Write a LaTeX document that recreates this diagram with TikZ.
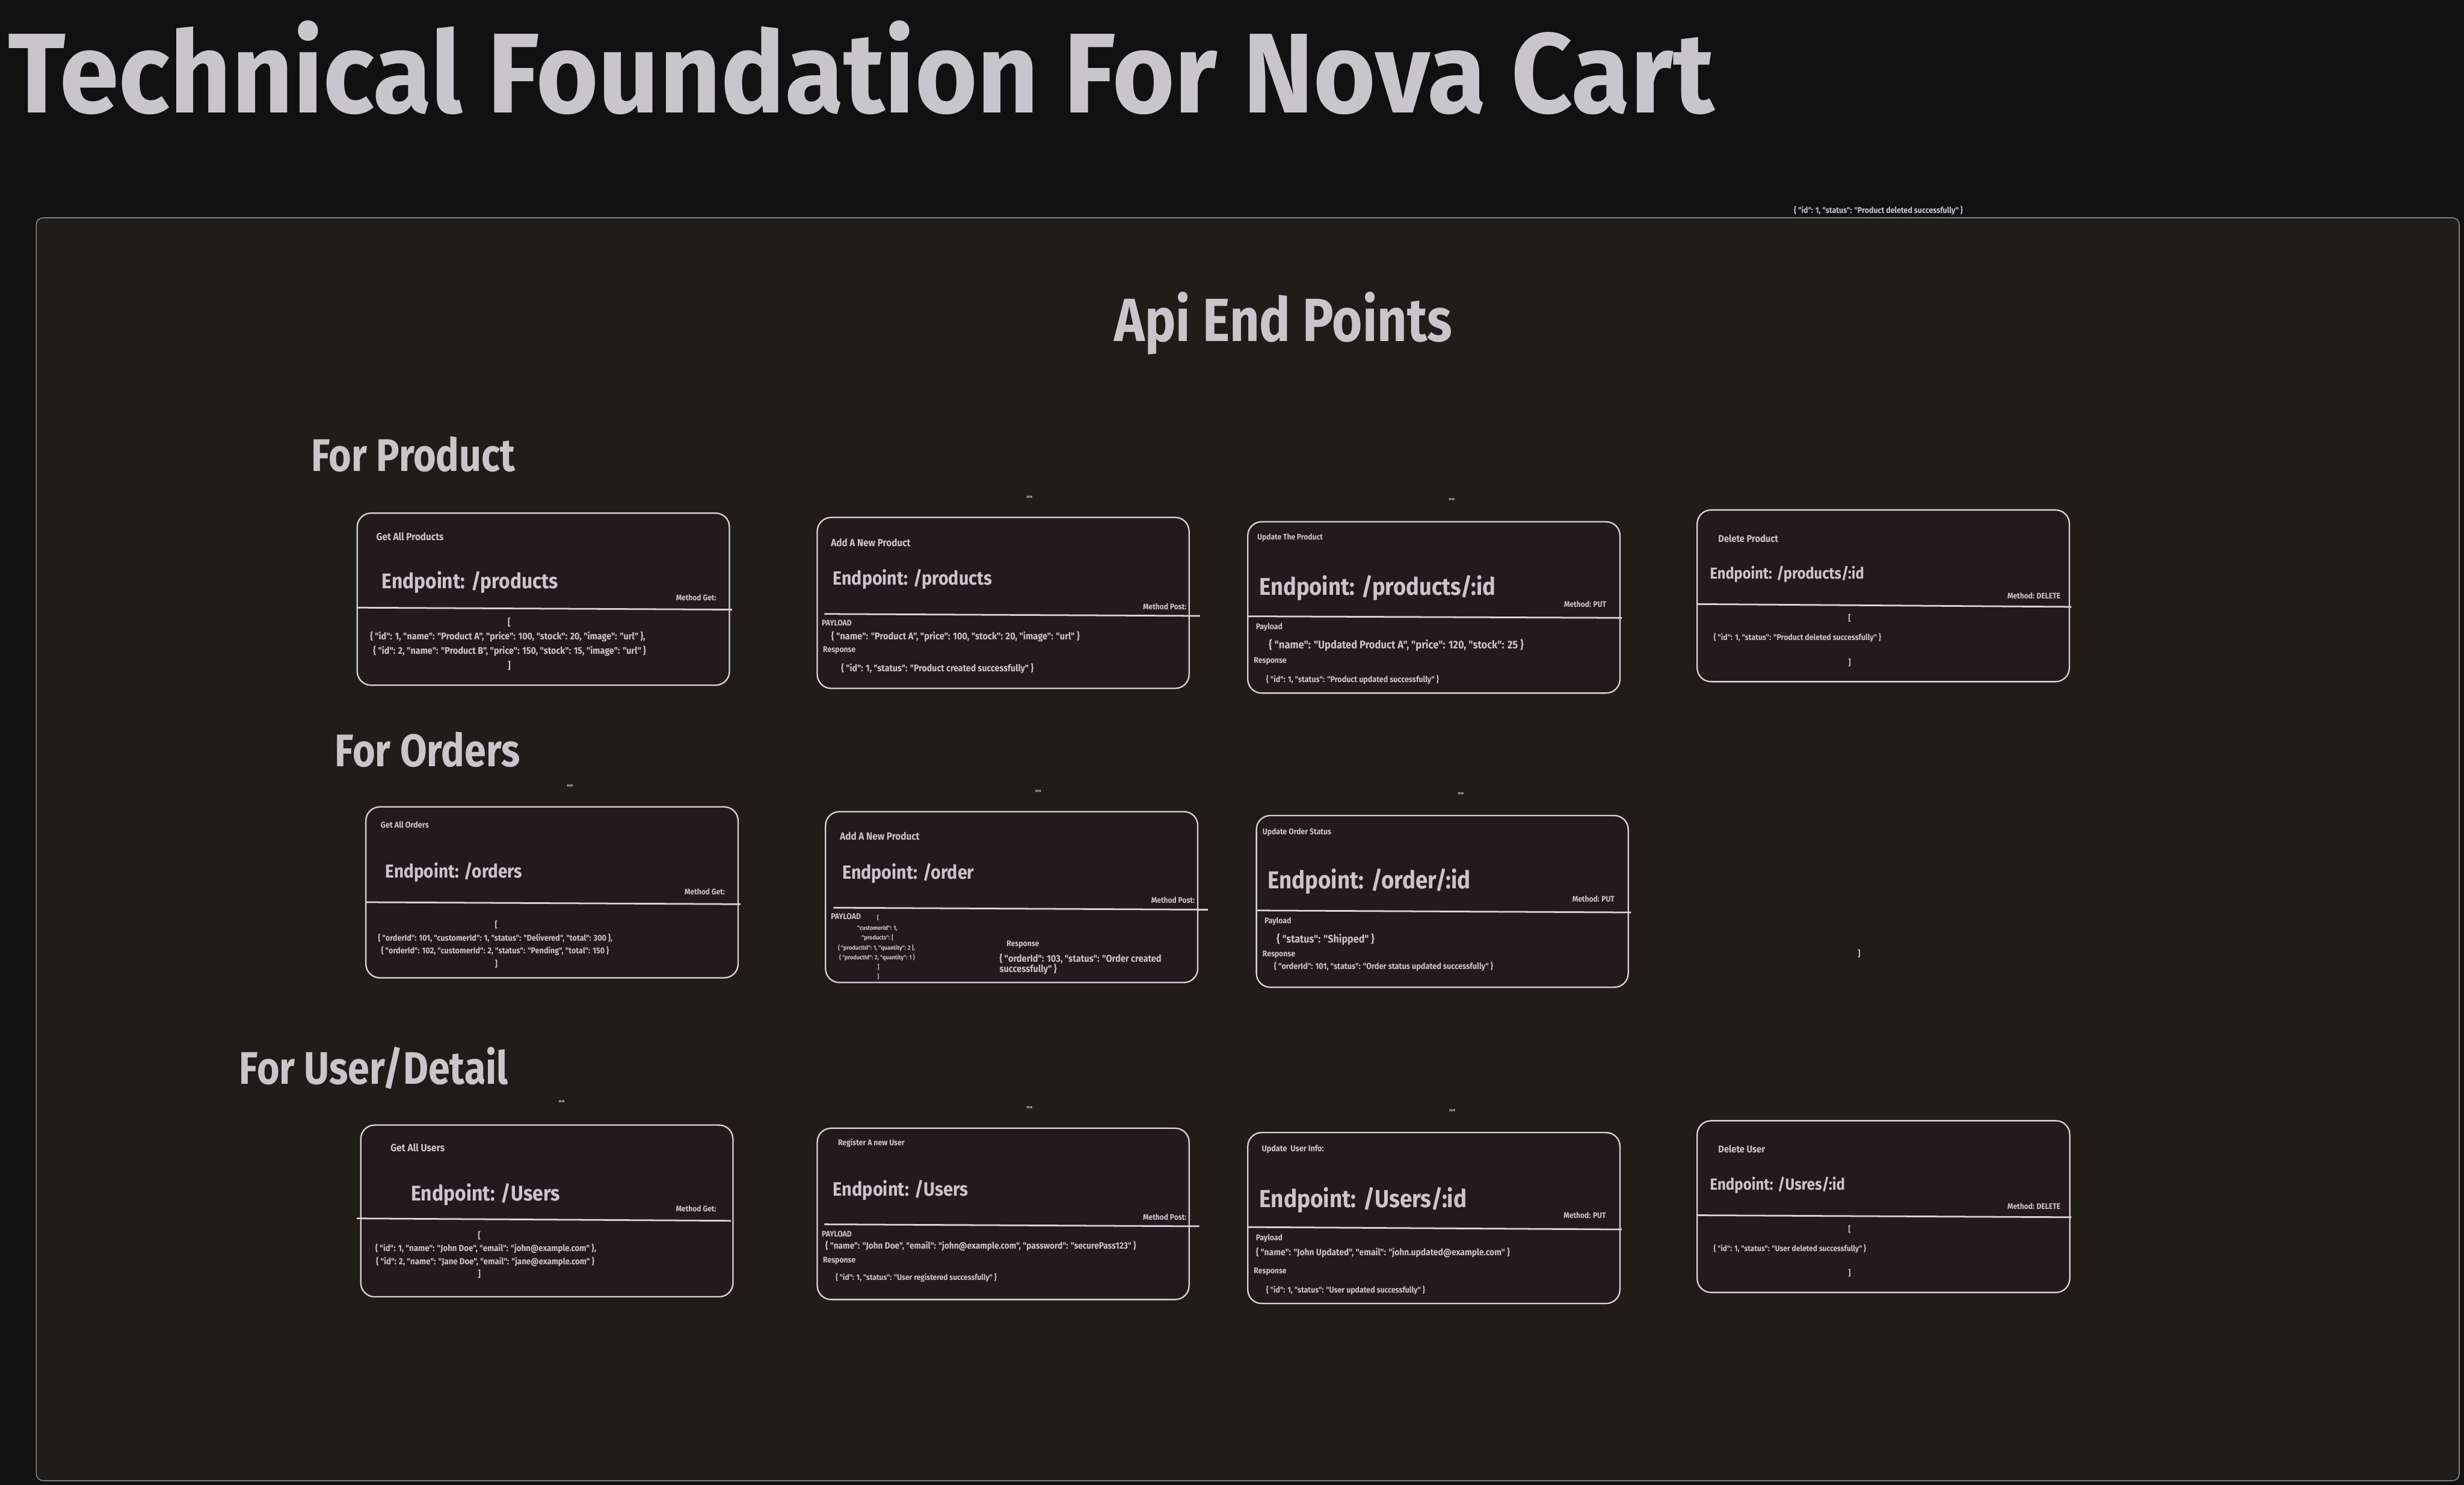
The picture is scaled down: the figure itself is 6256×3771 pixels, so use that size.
\documentclass[tikz,border=0pt]{standalone}
\usepackage{fontspec}
\newfontfamily\titlefont{Fira Sans}[FakeStretch=0.94]
\newfontfamily\headfont{Fira Sans}[FakeStretch=0.85]
\newfontfamily\cardfont{Fira Sans}[FakeStretch=0.9]
\definecolor{pagebg}{RGB}{17,17,17}
\definecolor{panelfill}{RGB}{31,28,26}
\definecolor{panelline}{RGB}{150,148,150}
\definecolor{cardfill}{RGB}{35,26,30}
\definecolor{cardline}{RGB}{214,212,215}
\definecolor{ink}{RGB}{200,198,202}

\begin{document}
\begin{tikzpicture}[x = 0.01cm, y = -0.01cm,
  card/.style = {draw = cardline, fill = cardfill, line width = 1pt, rounded corners = 10pt},
  divider/.style = {draw = cardline, line width = 1.2pt},
  heading/.style = {anchor = base west, inner sep = 0pt, text = ink, font = \headfont\bfseries\fontsize{#1}{#1}\selectfont},
  txt/.style = {inner sep = 0pt, text = ink, font = \cardfont\bfseries\fontsize{#1}{#1}\selectfont},
  lefttxt/.style = {txt = #1, anchor = west},
  method/.style = {txt = 5.8, anchor = east},
  seclabel/.style = {txt = 5.9, anchor = west},
  quotemark/.style = {txt = 5.5}]
\useasboundingbox (0,0) rectangle (6256,3771);
\fill[pagebg] (0,0) rectangle (6256,3771);
\filldraw[fill = panelfill, draw = panelline, line width = 0.6pt, rounded corners = 5pt] (92,553) rectangle (6244,3760);

\node[heading = 82, font = \titlefont\bfseries\fontsize{82}{82}\selectfont] (title) at (20,287) {Technical Foundation For Nova Cart};
\node[heading = 44] (api) at (2829,866) {Api End Points};
\node[heading = 33] (forproduct) at (790,1197) {For Product};
\node[heading = 33] (fororders) at (850,1947) {For Orders};
\node[heading = 33] (foruser) at (607,2753) {For User/Detail};
\node[lefttxt = 6] (stray1) at (4554,535) {\{ "id": 1, "status": "Product deleted successfully" \}};
\node[txt = 6.1] (stray2) at (4720,2422) {]};

\filldraw[card] (907,1303) rectangle (1852,1740);
\draw[divider] (907,1543) -- (1859,1548);
\node[lefttxt = 7.4] (c1title) at (955,1363) {Get All Products};
\node[lefttxt = 15.3] (c1ep) at (969,1478) {Endpoint: /products};
\node[method] (c1method) at (1819,1518) {Method Get:};
\node[txt = 6.95] (c1open) at (1293,1580) {[};
\node[lefttxt = 6.95] (c1row1) at (939,1616) {\{ "id": 1, "name": "Product A", "price": 100, "stock": 20, "image": "url" \},};
\node[lefttxt = 6.95] (c1row2) at (947,1654) {\{ "id": 2, "name": "Product B", "price": 150, "stock": 15, "image": "url" \}};
\node[txt = 6.95] (c1close) at (1293,1691) {]};

\filldraw[card] (2075,1314) rectangle (3019,1748);
\draw[divider] (2093,1559) -- (3047,1564);
\node[quotemark] (c2mark) at (2614,1266) {""};
\node[lefttxt = 7.4] (c2title) at (2109,1378) {Add A New Product};
\node[lefttxt = 13.8] (c2ep) at (2114,1471) {Endpoint: /products};
\node[method] (c2method) at (3013,1540) {Method Post:};
\node[seclabel] (c2pay) at (2086,1582) {PAYLOAD};
\node[lefttxt = 7.05] (c2payrow) at (2110,1616) {\{ "name": "Product A", "price": 100, "stock": 20, "image": "url" \}};
\node[seclabel] (c2resp) at (2089,1651) {Response};
\node[lefttxt = 6.85] (c2resprow) at (2135,1698) {\{ "id": 1, "status": "Product created successfully" \}};

\filldraw[card] (3168,1325) rectangle (4113,1760);
\draw[divider] (3168,1565) -- (4118,1569);
\node[quotemark] (c3mark) at (3686,1273) {""};
\node[lefttxt = 5.8] (c3title) at (3192,1366) {Update The Product};
\node[lefttxt = 17.5] (c3ep) at (3197,1493) {Endpoint: /products/:id};
\node[method] (c3method) at (4079,1535) {Method: PUT};
\node[seclabel] (c3pay) at (3188,1593) {Payload};
\node[lefttxt = 8.0] (c3payrow) at (3221,1638) {\{ "name": "Updated Product A", "price": 120, "stock": 25 \}};
\node[seclabel] (c3resp) at (3183,1679) {Response};
\node[lefttxt = 6.05] (c3resprow) at (3214,1726) {\{ "id": 1, "status": "Product updated successfully" \}};

\filldraw[card] (4309,1295) rectangle (5254,1731);
\draw[divider] (4309,1534) -- (5259,1541);
\node[lefttxt = 7.1] (c4title) at (4362,1367) {Delete Product};
\node[lefttxt = 11.4] (c4ep) at (4341,1458) {Endpoint: /products/:id};
\node[method] (c4method) at (5232,1513) {Method: DELETE};
\node[txt = 5.95] (c4open) at (4696,1570) {[};
\node[lefttxt = 5.95] (c4row) at (4350,1620) {\{ "id": 1, "status": "Product deleted successfully" \}};
\node[txt = 5.95] (c4close) at (4696,1683) {]};

\filldraw[card] (929,2049) rectangle (1874,2483);
\draw[divider] (929,2291) -- (1880,2296);
\node[quotemark] (c5mark) at (1447,1999) {""};
\node[lefttxt = 6.1] (c5title) at (966,2094) {Get All Orders};
\node[lefttxt = 13.5] (c5ep) at (978,2215) {Endpoint: /orders};
\node[method] (c5method) at (1841,2265) {Method Get:};
\node[txt = 6.1] (c5open) at (1260,2349) {[};
\node[lefttxt = 6.1] (c5row1) at (959,2382) {\{ "orderId": 101, "customerId": 1, "status": "Delivered", "total": 300 \},};
\node[lefttxt = 6.1] (c5row2) at (967,2415) {\{ "orderId": 102, "customerId": 2, "status": "Pending", "total": 150 \}};
\node[txt = 6.1] (c5close) at (1260,2447) {]};

\filldraw[card] (2096,2061) rectangle (3041,2495);
\draw[divider] (2116,2305) -- (3067,2310);
\node[quotemark] (c6mark) at (2636,2013) {""};
\node[lefttxt = 7.4] (c6title) at (2132,2124) {Add A New Product};
\node[lefttxt = 13.8] (c6ep) at (2138,2218) {Endpoint: /order};
\node[method] (c6method) at (3034,2286) {Method Post:};
\node[seclabel] (c6pay) at (2109,2328) {PAYLOAD};
\node[txt = 4.4] (c6open) at (2229,2331) {\{};
\node[lefttxt = 4.4] (c6cust) at (2176,2357) {"customerId": 1,};
\node[lefttxt = 4.4] (c6prod) at (2187,2382) {"products": [};
\node[lefttxt = 4.4] (c6item1) at (2127,2407) {\{ "productId": 1, "quantity": 2 \},};
\node[lefttxt = 4.4] (c6item2) at (2130,2432) {\{ "productId": 2, "quantity": 1 \}};
\node[txt = 4.4] (c6listend) at (2230,2456) {]};
\node[txt = 4.4] (c6close) at (2230,2480) {\}};
\node[seclabel] (c6resp) at (2555,2399) {Response};
\node[lefttxt = 7.05] (c6resp1) at (2537,2435) {\{ "orderId": 103, "status": "Order created};
\node[lefttxt = 7.05] (c6resp2) at (2537,2461) {successfully" \}};

\filldraw[card] (3190,2071) rectangle (4134,2507);
\draw[divider] (3190,2312) -- (4141,2317);
\node[quotemark] (c7mark) at (3709,2019) {""};
\node[lefttxt = 5.9] (c7title) at (3205,2113) {Update Order Status};
\node[lefttxt = 17.7] (c7ep) at (3218,2238) {Endpoint: /order/:id};
\node[method] (c7method) at (4100,2282) {Method: PUT};
\node[seclabel] (c7pay) at (3210,2340) {Payload};
\node[lefttxt = 7.8] (c7payrow) at (3241,2385) {\{ "status": "Shipped" \}};
\node[seclabel] (c7resp) at (3205,2425) {Response};
\node[lefttxt = 6.15] (c7resprow) at (3234,2455) {\{ "orderId": 101, "status": "Order status updated successfully" \}};

\filldraw[card] (916,2857) rectangle (1861,3293);
\draw[divider] (906,3094) -- (1856,3100);
\node[quotemark] (c8mark) at (1426,2802) {""};
\node[lefttxt = 7.5] (c8title) at (991,2914) {Get All Users};
\node[lefttxt = 15.4] (c8ep) at (1043,3033) {Endpoint: /Users};
\node[method] (c8method) at (1819,3069) {Method Get:};
\node[txt = 6.4] (c8open) at (1217,3138) {[};
\node[lefttxt = 6.4] (c8row1) at (952,3171) {\{ "id": 1, "name": "John Doe", "email": "john@example.com" \},};
\node[lefttxt = 6.4] (c8row2) at (954,3204) {\{ "id": 2, "name": "Jane Doe", "email": "jane@example.com" \}};
\node[txt = 6.4] (c8close) at (1217,3236) {]};

\filldraw[card] (2075,2865) rectangle (3019,3300);
\draw[divider] (2093,3109) -- (3045,3114);
\node[quotemark] (c9mark) at (2614,2817) {""};
\node[lefttxt = 5.9] (c9title) at (2127,2903) {Register A new User};
\node[lefttxt = 14] (c9ep) at (2114,3022) {Endpoint: /Users};
\node[method] (c9method) at (3013,3091) {Method Post:};
\node[seclabel] (c9pay) at (2086,3133) {PAYLOAD};
\node[lefttxt = 6.6] (c9payrow) at (2095,3165) {\{ "name": "John Doe", "email": "john@example.com", "password": "securePass123" \}};
\node[seclabel] (c9resp) at (2089,3202) {Response};
\node[lefttxt = 5.8] (c9resprow) at (2121,3244) {\{ "id": 1, "status": "User registered successfully" \}};

\filldraw[card] (3168,2876) rectangle (4113,3310);
\draw[divider] (3168,3116) -- (4118,3122);
\node[quotemark] (c10mark) at (3687,2824) {""};
\node[lefttxt = 6.1] (c10title) at (3203,2918) {Update\ \ User Info:};
\node[lefttxt = 17.8] (c10ep) at (3197,3048) {Endpoint: /Users/:id};
\node[method] (c10method) at (4078,3086) {Method: PUT};
\node[seclabel] (c10pay) at (3188,3145) {Payload};
\node[lefttxt = 6.7] (c10payrow) at (3188,3181) {\{ "name": "John Updated", "email": "john.updated@example.com" \}};
\node[seclabel] (c10resp) at (3183,3229) {Response};
\node[lefttxt = 5.95] (c10resprow) at (3214,3276) {\{ "id": 1, "status": "User updated successfully" \}};

\filldraw[card] (4309,2846) rectangle (5255,3282);
\draw[divider] (4309,3086) -- (5259,3091);
\node[lefttxt = 7.1] (c11title) at (4362,2918) {Delete User};
\node[lefttxt = 11.6] (c11ep) at (4341,3010) {Endpoint: /Usres/:id};
\node[method] (c11method) at (5232,3063) {Method: DELETE};
\node[txt = 5.8] (c11open) at (4696,3121) {[};
\node[lefttxt = 5.8] (c11row) at (4350,3172) {\{ "id": 1, "status": "User deleted successfully" \}};
\node[txt = 5.8] (c11close) at (4696,3233) {]};
\end{tikzpicture}
\end{document}
